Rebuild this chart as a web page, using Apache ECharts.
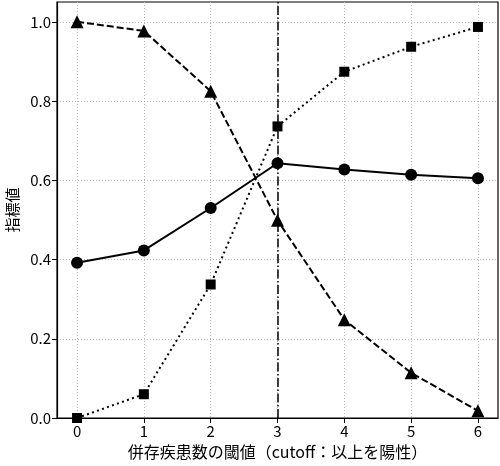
<!DOCTYPE html>
<html>
<head>
<meta charset="utf-8">
<script src="https://cdn.jsdelivr.net/npm/echarts@6/dist/echarts.min.js"></script>
<style>
  html, body { margin: 0; padding: 0; background: #fff; }
  #chart { width: 500px; height: 466px; }
</style>
</head>
<body>
<div id="chart"></div>
<script>
var cutoffs = [0, 1, 2, 3, 4, 5, 6];
// circle / solid
var circleVals = [0.392, 0.423, 0.530, 0.643, 0.627, 0.614, 0.605];
// square / dotted
var squareVals = [0.0, 0.060, 0.337, 0.736, 0.874, 0.937, 0.987];
// triangle / dashed
var triangleVals = [1.0, 0.977, 0.825, 0.499, 0.248, 0.114, 0.018];
var yTicks = [0, 0.2, 0.4, 0.6, 0.8, 1.0];
var chosenCutoff = 3;

function pairs(vals) {
    return cutoffs.map(function (c, i) { return [c, vals[i]]; });
}

var font = '"Noto Sans CJK JP", "Noto Sans", sans-serif';
var gridLine = {show: true, lineStyle: {color: '#b0b0b0', width: 0.9, type: [1, 2]}};

var option = {
    animation: false,
    grid: {left: 57, right: 2, top: 2, bottom: 48, outerBoundsMode: 'none',
        show: true, borderColor: '#000', borderWidth: 1.2},
    xAxis: {
        type: 'value', min: -0.3, max: 6.3, interval: 1,
        name: '併存疾患数の閾値（cutoff：以上を陽性）',
        nameLocation: 'middle', nameGap: 26,
        nameTextStyle: {fontFamily: font, fontSize: 16, color: '#000'},
        axisLine: {onZero: false, lineStyle: {color: '#000', width: 1.2}},
        axisTick: {show: true, length: 5, customValues: cutoffs, lineStyle: {color: '#000'}},
        axisLabel: {customValues: cutoffs, fontFamily: font, fontSize: 15, color: '#000', margin: 6},
        splitLine: gridLine
    },
    yAxis: {
        type: 'value', min: 0, max: 1.05, interval: 0.2,
        name: '指標値',
        nameLocation: 'middle', nameGap: 37, nameMoveOverlap: false,
        nameTextStyle: {fontFamily: font, fontSize: 15, color: '#000'},
        axisLine: {show: true, onZero: false, lineStyle: {color: '#000', width: 1.2}},
        axisTick: {show: true, length: 5, customValues: yTicks, lineStyle: {color: '#000'}},
        axisLabel: {customValues: yTicks, fontFamily: font, fontSize: 15, color: '#000', margin: 6,
            formatter: function (v) { return v.toFixed(1); }},
        splitLine: gridLine
    },
    series: [
        {
            type: 'line', data: pairs(squareVals), symbol: 'rect', symbolSize: 10,
            itemStyle: {color: '#000'},
            lineStyle: {color: '#000', width: 2, type: [2, 3.3]},
            z: 3
        },
        {
            type: 'line', data: pairs(triangleVals), symbol: 'triangle', symbolSize: 13,
            itemStyle: {color: '#000'},
            lineStyle: {color: '#000', width: 2, type: [7, 3]},
            z: 3
        },
        {
            type: 'line', data: pairs(circleVals), symbol: 'circle', symbolSize: 12,
            itemStyle: {color: '#000'},
            lineStyle: {color: '#000', width: 2},
            z: 4,
            markLine: {
                silent: true, symbol: 'none', label: {show: false},
                lineStyle: {color: '#000', width: 1.5, type: [9, 2.5, 1.5, 2.5]},
                data: [{xAxis: chosenCutoff}]
            }
        }
    ]
};

var myChart = echarts.init(document.getElementById('chart'));
myChart.setOption(option);
</script>
</body>
</html>
